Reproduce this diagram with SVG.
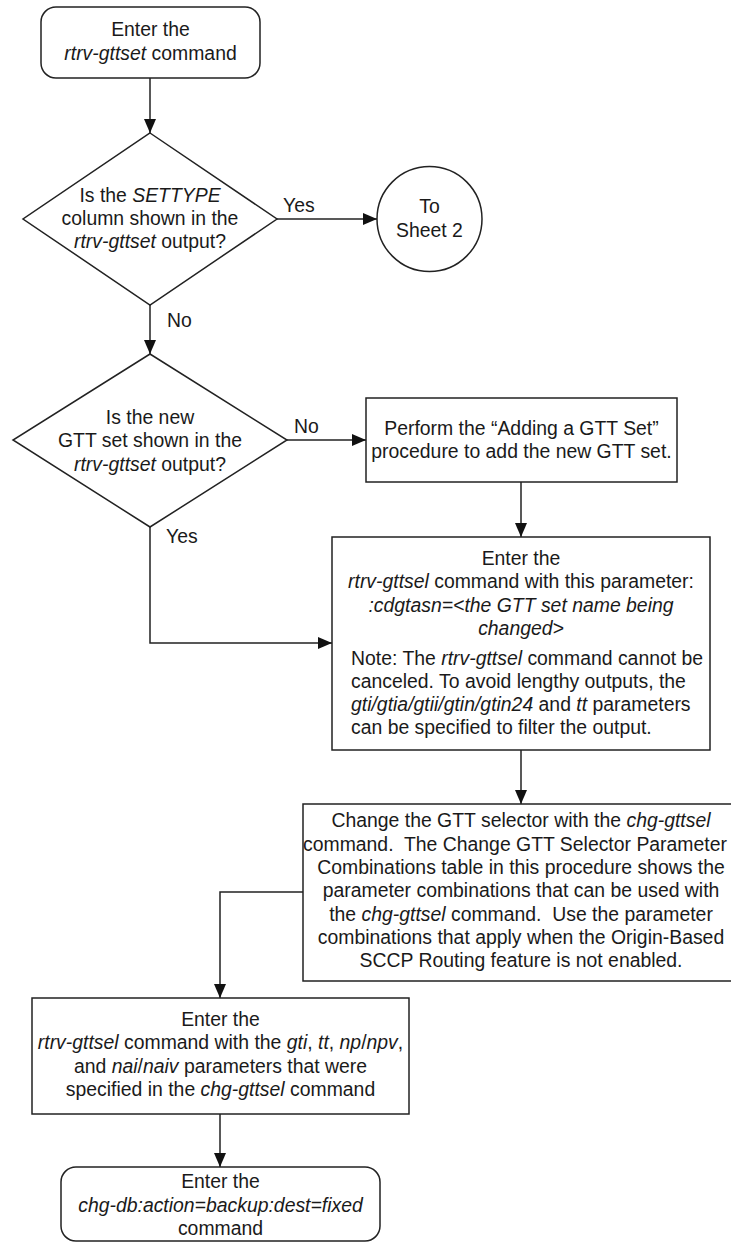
<svg xmlns="http://www.w3.org/2000/svg" width="731" height="1243" viewBox="0 0 731 1243">
<style>
.shape{fill:#fff;stroke:#222;stroke-width:1.5}
.line{fill:none;stroke:#222;stroke-width:1.5}
text{font-family:"Liberation Sans",Arial,sans-serif;font-size:19.4px;fill:#1a1a1a}
.c{text-anchor:middle}
.i{font-style:italic}
</style>
<defs>
<marker id="ah" markerUnits="userSpaceOnUse" markerWidth="14" markerHeight="12" refX="14" refY="6" orient="auto">
<path d="M0,0 L14,6 L0,12 Z" fill="#111"/>
</marker>
</defs>
<rect width="731" height="1243" fill="#fff"/>
<g id="connectors">
<line class="line" x1="150" y1="78" x2="150" y2="133" marker-end="url(#ah)"/>
<line class="line" x1="277" y1="219" x2="377" y2="219" marker-end="url(#ah)"/>
<line class="line" x1="150" y1="305" x2="150" y2="354" marker-end="url(#ah)"/>
<line class="line" x1="287" y1="440" x2="366" y2="440" marker-end="url(#ah)"/>
<line class="line" x1="521" y1="482" x2="521" y2="537" marker-end="url(#ah)"/>
<polyline class="line" points="150,527 150,643 332,643" marker-end="url(#ah)"/>
<line class="line" x1="521" y1="750" x2="521" y2="804" marker-end="url(#ah)"/>
<polyline class="line" points="303,892 220,892 220,998" marker-end="url(#ah)"/>
<line class="line" x1="220" y1="1114" x2="220" y2="1167" marker-end="url(#ah)"/>
<text x="283" y="212">Yes</text>
<text x="167" y="327">No</text>
<text x="294" y="433">No</text>
<text x="166" y="543">Yes</text>
</g>
<g id="start">
<rect class="shape" x="41" y="7" width="219" height="71" rx="15"/>
<text class="c" x="150.5" y="36">Enter the</text>
<text class="c" x="150.5" y="60"><tspan class="i">rtrv-gttset</tspan> command</text>
</g>
<g id="decision1">
<polygon class="shape" points="150,133 277,219 150,305 23,219"/>
<text class="c" x="150" y="202">Is the <tspan class="i">SETTYPE</tspan></text>
<text class="c" x="150" y="225">column shown in the</text>
<text class="c" x="150" y="248"><tspan class="i">rtrv-gttset</tspan> output?</text>
</g>
<g id="sheet2">
<circle class="shape" cx="429.5" cy="219" r="52.5"/>
<text class="c" x="429.5" y="213">To</text>
<text class="c" x="429.5" y="237">Sheet 2</text>
</g>
<g id="decision2">
<polygon class="shape" points="150,354 287,440 150,527 13,440"/>
<text class="c" x="150" y="424">Is the new</text>
<text class="c" x="150" y="447">GTT set shown in the</text>
<text class="c" x="150" y="471"><tspan class="i">rtrv-gttset</tspan> output?</text>
</g>
<g id="addset">
<rect class="shape" x="366" y="398" width="311" height="84"/>
<text class="c" x="521.5" y="435">Perform the “Adding a GTT Set”</text>
<text class="c" x="521.5" y="458">procedure to add the new GTT set.</text>
</g>
<g id="rtrvsel1">
<rect class="shape" x="332" y="537" width="378" height="213"/>
<text class="c" x="521" y="565">Enter the</text>
<text class="c" x="521" y="588"><tspan class="i">rtrv-gttsel</tspan> command with this parameter:</text>
<text class="c i" x="521" y="612">:cdgtasn=&lt;the GTT set name being</text>
<text class="c i" x="521" y="635">changed&gt;</text>
<text x="351" y="665">Note: The <tspan class="i">rtrv-gttsel</tspan> command cannot be</text>
<text x="351" y="688">canceled. To avoid lengthy outputs, the</text>
<text x="351" y="711"><tspan class="i">gti/gtia/gtii/gtin/gtin24</tspan> and <tspan class="i">tt</tspan> parameters</text>
<text x="351" y="734">can be specified to filter the output.</text>
</g>
<g id="chgsel">
<path class="shape" d="M740,804 H303 V981 H740"/>
<text class="c" x="521" y="827">Change the GTT selector with the <tspan class="i">chg-gttsel</tspan></text>
<text x="303" y="850.5">command.&#160; The Change GTT Selector Parameter</text>
<text class="c" x="521" y="874">Combinations table in this procedure shows the</text>
<text class="c" x="521" y="897">parameter combinations that can be used with</text>
<text class="c" x="521" y="921">the <tspan class="i">chg-gttsel</tspan> command.&#160; Use the parameter</text>
<text class="c" x="521" y="944">combinations that apply when the Origin-Based</text>
<text class="c" x="521" y="967">SCCP Routing feature is not enabled.</text>
</g>
<g id="rtrvsel2">
<rect class="shape" x="32" y="998" width="377" height="116"/>
<text class="c" x="220.5" y="1026">Enter the</text>
<text class="c" x="220.5" y="1049"><tspan class="i">rtrv-gttsel</tspan> command with the <tspan class="i">gti</tspan>, <tspan class="i">tt</tspan>, <tspan class="i">np</tspan>/<tspan class="i">npv</tspan>,</text>
<text class="c" x="220.5" y="1073">and <tspan class="i">nai</tspan>/<tspan class="i">naiv</tspan> parameters that were</text>
<text class="c" x="220.5" y="1096">specified in the <tspan class="i">chg-gttsel</tspan> command</text>
</g>
<g id="end">
<rect class="shape" x="61" y="1167" width="319" height="74" rx="15"/>
<text class="c" x="220.5" y="1188">Enter the</text>
<text class="c i" x="220.5" y="1212">chg-db:action=backup:dest=fixed</text>
<text class="c" x="220.5" y="1235">command</text>
</g>
</svg>
